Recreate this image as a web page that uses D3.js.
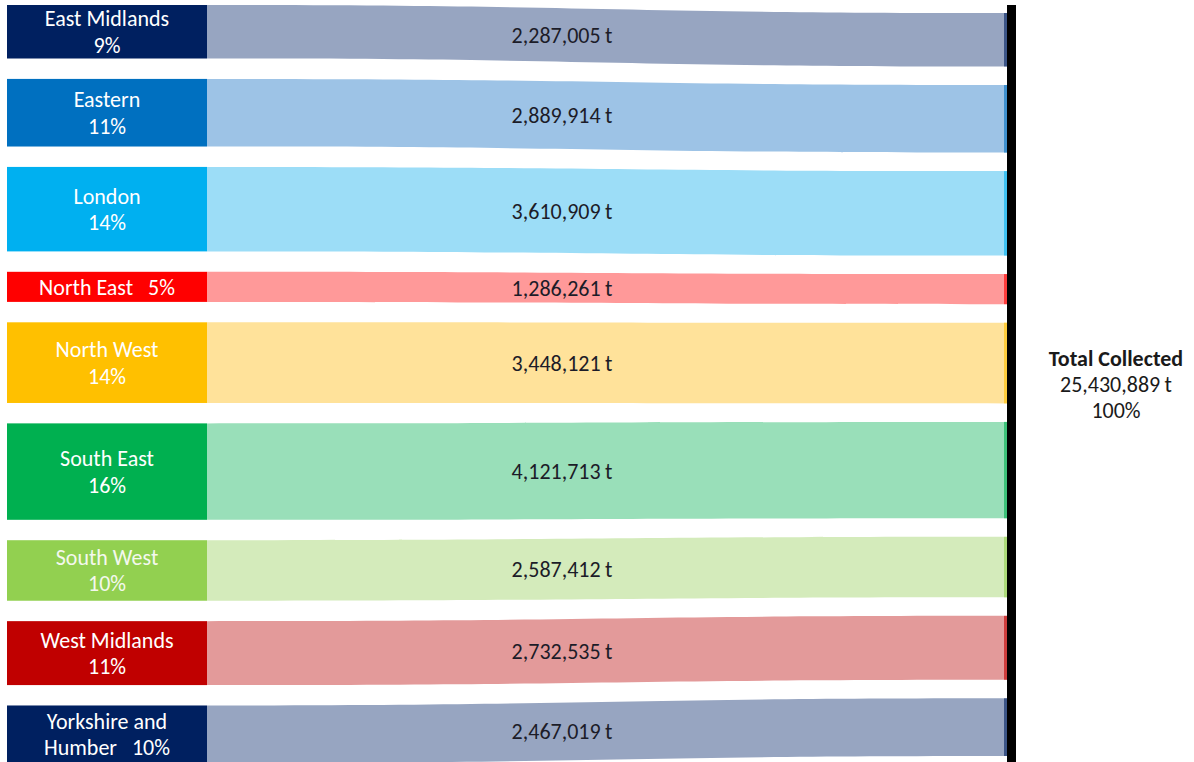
<!DOCTYPE html>
<html>
<head>
<meta charset="utf-8">
<script src="https://cdn.jsdelivr.net/npm/d3@7"></script>
<style>
  html, body { margin: 0; padding: 0; background: #fff; }
  svg { display: block; }
  text { font-family: Carlito, Lato, "Open Sans", sans-serif; }
</style>
</head>
<body>
<svg id="chart" width="1194" height="762"></svg>
<script>
// ---- data ----
const regions = ["East Midlands", "Eastern", "London", "North East", "North West",
                 "South East", "South West", "West Midlands", "Yorkshire and Humber"];
const tonnes = [2287005, 2889914, 3610909, 1286261, 3448121, 4121713, 2587412, 2732535, 2467019];
const nodeColors = ["#002060", "#0070C0", "#00B0F0", "#FF0000", "#FFC000",
                    "#00B050", "#92D050", "#C00000", "#002060"];
const linkColors = ["#97A5C1", "#9DC3E6", "#9CDDF7", "#FF9999", "#FFE29A",
                    "#99DFB9", "#D4EBBB", "#E39A9A", "#97A5C1"];
const totalLabel = "Total Collected";

// ---- layout ----
const svg = d3.select("#chart");
const total = d3.sum(tonnes);
const fmt = d3.format(",");
const pct = v => Math.round(v / total * 100) + "%";

const nodeX0 = 7, nodeX1 = 207, barX0 = 1007, barX1 = 1016;
const hScale = d3.scaleLinear().domain([0, total]).range([0, 595]);
const FS = 22;

function stack(top, gap) {
  let y = top;
  return tonnes.map(v => {
    const h = hScale(v);
    const r = { y0: y, y1: y + h };
    y += h + gap;
    return r;
  });
}
const left = stack(5, 20.4);
const right = stack(13, 18.5);

// links
const xm = (nodeX1 + barX0) / 2;
function linkPath(l, r) {
  const p = d3.path();
  p.moveTo(nodeX1, l.y0);
  p.bezierCurveTo(xm, l.y0, xm, r.y0, barX0, r.y0);
  p.lineTo(barX0, r.y1);
  p.bezierCurveTo(xm, r.y1, xm, l.y1, nodeX1, l.y1);
  p.closePath();
  return p.toString();
}

svg.append("g").selectAll("path")
  .data(tonnes)
  .join("path")
  .attr("d", (d, i) => linkPath(left[i], right[i]))
  .attr("fill", (d, i) => linkColors[i]);

// right thin coloured end slices
svg.append("g").selectAll("rect")
  .data(tonnes)
  .join("rect")
  .attr("x", barX0 - 3)
  .attr("y", (d, i) => right[i].y0)
  .attr("width", 3)
  .attr("height", (d, i) => right[i].y1 - right[i].y0)
  .attr("fill", (d, i) => nodeColors[i])
  .attr("opacity", 0.6);

// right black bar
svg.append("rect")
  .attr("x", barX0).attr("y", 5)
  .attr("width", barX1 - barX0).attr("height", 762)
  .attr("fill", "#000");

// left nodes
svg.append("g").selectAll("rect")
  .data(tonnes)
  .join("rect")
  .attr("x", nodeX0)
  .attr("y", (d, i) => left[i].y0)
  .attr("width", nodeX1 - nodeX0)
  .attr("height", (d, i) => left[i].y1 - left[i].y0)
  .attr("fill", (d, i) => nodeColors[i]);

// node labels
function nodeLines(i) {
  const name = regions[i], p = pct(tonnes[i]);
  if (name === "North East") return [name + "\u00a0\u00a0 " + p];
  if (name === "Yorkshire and Humber") return ["Yorkshire and", "Humber\u00a0\u00a0 " + p];
  return [name, p];
}
const lineH = 26.5;
tonnes.forEach((v, i) => {
  const lines = nodeLines(i);
  const mid = (left[i].y0 + left[i].y1) / 2;
  const t = svg.append("text")
    .attr("text-anchor", "middle")
    .attr("font-size", FS)
    .attr("fill", i === 6 ? "#f4f8ee" : "#fff");
  lines.forEach((ln, j) => {
    t.append("tspan")
      .attr("x", (nodeX0 + nodeX1) / 2)
      .attr("y", mid + (j - (lines.length - 1) / 2) * lineH)
      .attr("dy", "0.35em")
      .text(ln);
  });
});

// value labels
const labelX = 562;
const tLab = (labelX - nodeX1) / (barX0 - nodeX1);
tonnes.forEach((v, i) => {
  const yl = (left[i].y0 + left[i].y1) / 2, yr = (right[i].y0 + right[i].y1) / 2;
  const s = tLab * tLab * (3 - 2 * tLab);
  const y = yl + (yr - yl) * s;
  svg.append("text")
    .attr("x", labelX).attr("y", y).attr("dy", "0.35em")
    .attr("text-anchor", "middle")
    .attr("font-size", FS)
    .attr("fill", "#1c1c28")
    .text(fmt(v) + "\u2009t");
});

// total label
const tg = svg.append("text")
  .attr("text-anchor", "middle")
  .attr("font-size", FS)
  .attr("fill", "#1a1a1a");
const totalMid = 384;
[[totalLabel, "bold"], [fmt(total) + "\u2009t", "normal"], ["100%", "normal"]].forEach((d, j) => {
  tg.append("tspan")
    .attr("x", 1116)
    .attr("y", totalMid + (j - 1) * 26)
    .attr("dy", "0.35em")
    .attr("font-weight", d[1])
    .text(d[0]);
});
</script>
</body>
</html>
